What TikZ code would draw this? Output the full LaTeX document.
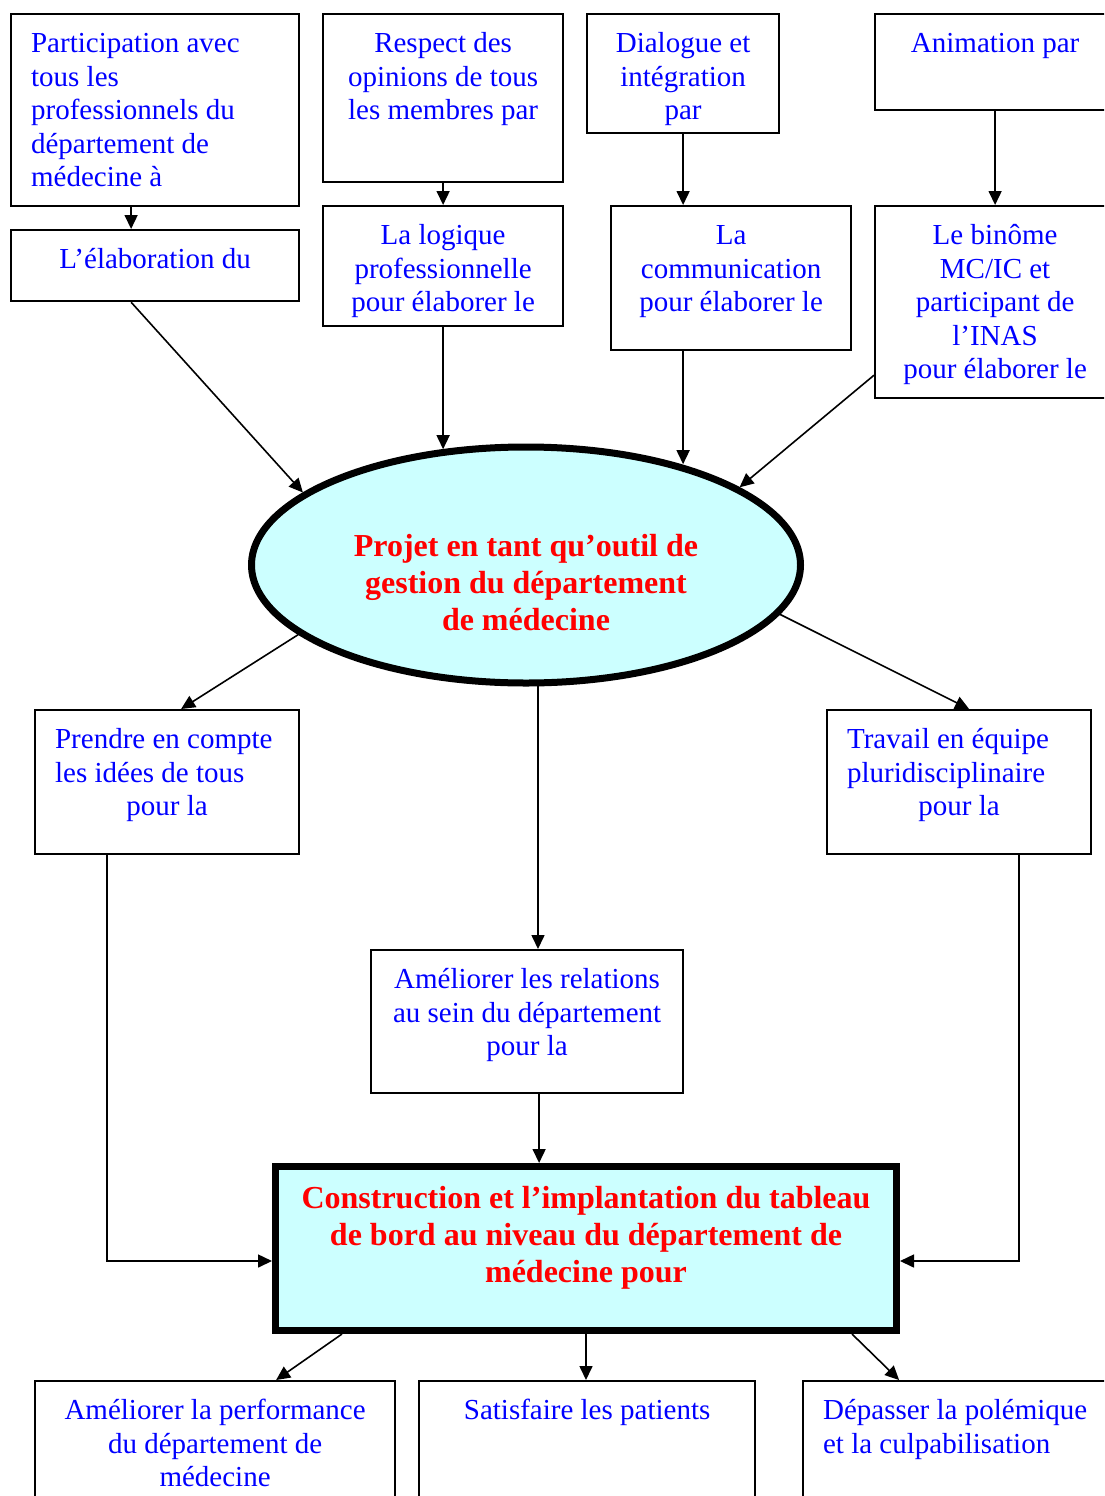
\documentclass[tikz,border=0pt]{standalone}
\usepackage{fontspec}
\setmainfont{Liberation Serif}
\usetikzlibrary{arrows.meta,calc,shapes.geometric}

\definecolor{txtblue}{RGB}{0,0,255}
\definecolor{txtred}{RGB}{255,0,0}
\definecolor{paleCyan}{RGB}{204,255,255}

\newcommand{\regtext}{\fontsize{29pt}{33.5pt}\selectfont}
\newcommand{\heavytext}{\fontsize{32pt}{37pt}\selectfont\bfseries}
% #1 width, #2 height, #3 distance from top to first baseline, #4 lines
\newcommand{\boxtext}[4]{\parbox[c][#2][t]{#1}{\centering\rule{0pt}{#3}\ignorespaces#4\par}}
% a line set flush left with a small indent
\newcommand{\lft}[1]{\makebox[\linewidth][l]{\hspace*{20pt}#1}}

\tikzset{
  bx/.style={draw=black, line width=2.2pt, inner sep=0pt, anchor=north west,
             text=txtblue, font=\regtext},
  keybox/.style={draw=black, line width=7pt, inner sep=0pt, anchor=north west,
             fill=paleCyan, text=txtred, font=\heavytext},
  keyell/.style={ellipse, draw=black, line width=7pt, inner sep=0pt, fill=paleCyan,
             minimum width=549pt, minimum height=236pt, text=txtred, font=\heavytext},
  arr/.style={line width=1.6pt, -{Triangle[length=14pt,width=13pt]}},
}

\begin{document}
\begin{tikzpicture}[x=1pt,y=-1pt]
\useasboundingbox (0,0) rectangle (1104,1496);
\fill[white] (0,0) rectangle (1104,1496);
\clip (0,0) rectangle (1104,1496);

% top row
\node[bx] (A1) at (10,13) {\boxtext{288pt}{192pt}{38.5pt}{\lft{Participation avec}\\\lft{tous les}\\\lft{professionnels du}\\\lft{département de}\\\lft{médecine à}}};
\node[bx] (A2) at (10,229) {\boxtext{288pt}{71pt}{38.5pt}{L’élaboration du}};
\node[bx] (B1) at (322,13) {\boxtext{240pt}{168pt}{38.5pt}{Respect des\\opinions de tous\\les membres par}};
\node[bx] (B2) at (322,205) {\boxtext{240pt}{120pt}{38.5pt}{La logique\\professionnelle\\pour élaborer le}};
\node[bx] (C1) at (586,13) {\boxtext{192pt}{119pt}{38.5pt}{Dialogue et\\intégration\\par}};
\node[bx] (C2) at (610,205) {\boxtext{240pt}{144pt}{38.5pt}{La\\communication\\pour élaborer le}};
\node[bx] (D1) at (874,13) {\boxtext{240pt}{96pt}{38.5pt}{Animation par}};
\node[bx] (D2) at (874,205) {\boxtext{240pt}{192pt}{38.5pt}{Le binôme\\MC/IC et\\participant de\\l’INAS\\pour élaborer le}};

% central ellipse
\node[keyell] (E) at (526,565) {\boxtext{360pt}{110pt}{46pt}{Projet en tant qu’outil de\\gestion du département\\de médecine}};

% middle row
\node[bx] (E1) at (34,709) {\boxtext{264pt}{144pt}{38.5pt}{\lft{Prendre en compte}\\\lft{les idées de tous}\\pour la}};
\node[bx] (G) at (826,709) {\boxtext{264pt}{144pt}{38.5pt}{\lft{Travail en équipe}\\\lft{pluridisciplinaire}\\pour la}};
\node[bx] (F) at (370,949) {\boxtext{312pt}{143pt}{38.5pt}{Améliorer les relations\\au sein du département\\pour la}};

% dashboard box
\node[keybox] (H) at (272,1163) {\boxtext{621pt}{164pt}{41.5pt}{Construction et l’implantation du tableau\\de bord au niveau du département de\\médecine pour}};

% bottom row
\node[bx] (I1) at (34,1380) {\boxtext{360pt}{150pt}{38.5pt}{Améliorer la performance\\du département de\\médecine}};
\node[bx] (I2) at (418,1380) {\boxtext{336pt}{150pt}{38.5pt}{Satisfaire les patients}};
\node[bx] (I3) at (802,1380) {\boxtext{336pt}{150pt}{38.5pt}{\lft{Dépasser la polémique}\\\lft{et la culpabilisation}}};

% connectors: top row
\draw[arr] ($(A1.south)+(-24,0)$) -- ($(A2.north)+(-24,0)$);
\draw[arr] (B1.south) -- (B2.north);
\draw[arr] (C1.south) -- (C1.south |- C2.north);
\draw[arr] (D1.south) -- (D2.north);

% connectors into the ellipse
\draw[arr] ($(A2.south)+(-24,0)$) -- (E.162);
\draw[arr] (B2.south) -- (B2.south |- E.126);
\draw[arr] (C1.south |- C2.south) -- (C1.south |- E.33);
\draw[arr] ($(D2.south west)+(0,-24)$) -- (E.20);

% connectors out of the ellipse
\coordinate (es) at ($(E.south)+(12,0)$);
\draw[arr] (E.197) -- ($(E1.north)+(14,0)$);
\draw[arr] (es |- E.275.6) -- (es |- F.north);
\draw[arr] (E.349) -- ($(G.north)+(10,0)$);

% connectors into the dashboard box
\coordinate (fs) at ($(F.south)+(12,0)$);
\draw[arr] ($(E1.south)+(-60,0)$) |- ($(H.west)+(0,12.5)$);
\draw[arr] (fs) -- (fs |- H.north);
\draw[arr] ($(G.south)+(60,0)$) |- ($(H.east)+(0,12.5)$);

% connectors to the bottom row
\draw[arr] ($(H.south)+(-244,0)$) -- ($(I1.north)+(61,0)$);
\draw[arr] (H.south) -- (H.south |- I2.north);
\draw[arr] ($(H.south)+(266,0)$) -- ($(I3.north)+(-72,0)$);
\end{tikzpicture}
\end{document}
